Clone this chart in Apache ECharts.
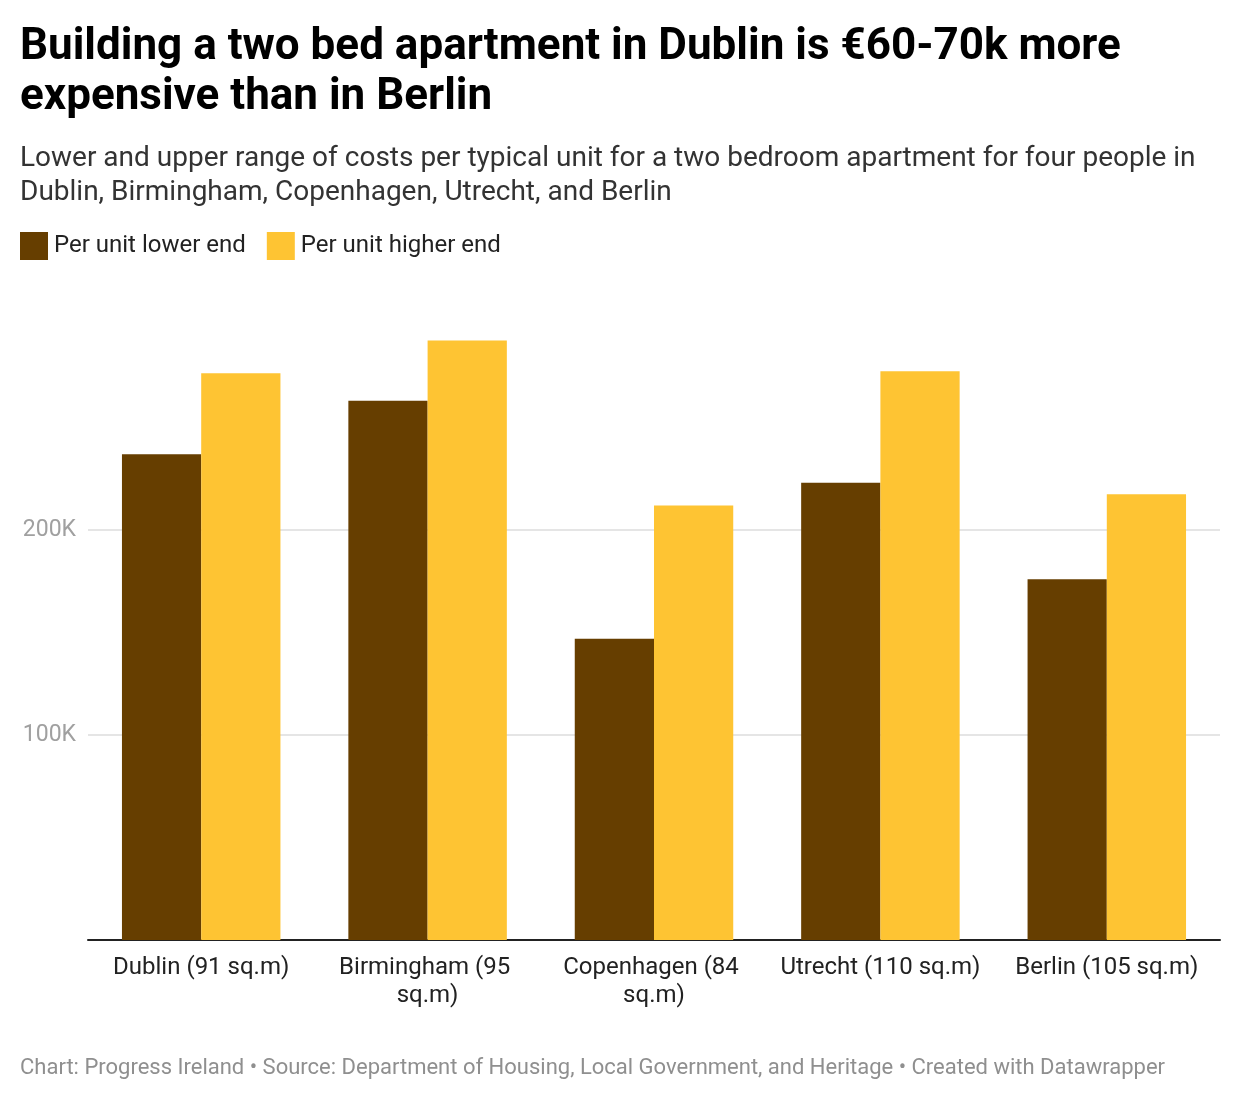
<!DOCTYPE html>
<html>
<head>
<meta charset="utf-8">
<script src="https://cdn.jsdelivr.net/npm/echarts@6/dist/echarts.min.js"></script>
<style>
  html, body { margin: 0; padding: 0; background: #fff; }
  #chart { width: 1240px; height: 1100px; }
</style>
</head>
<body>
<div id="chart"></div>
<script>
const categories = ['Dublin (91 sq.m)', 'Birmingham (95 sq.m)', 'Copenhagen (84 sq.m)', 'Utrecht (110 sq.m)', 'Berlin (105 sq.m)'];
const lowerEnd = [237000, 263000, 147000, 223000, 176000];
const higherEnd = [276500, 292500, 212000, 277500, 217500];
const seriesNames = ['Per unit lower end', 'Per unit higher end'];

const FONT = 'Roboto, "Noto Sans", sans-serif';
const chart = echarts.init(document.getElementById('chart'), null, { renderer: 'canvas' });

chart.setOption({
  backgroundColor: '#ffffff',
  textStyle: { fontFamily: FONT },
  title: [
    {
      text: 'Building a two bed apartment in Dublin is €60-70k more\nexpensive than in Berlin',
      left: 20, top: 23, padding: 0,
      textStyle: { fontFamily: FONT, fontSize: 44, fontWeight: 'bold', color: '#000', lineHeight: 50 }
    },
    {
      text: 'Lower and upper range of costs per typical unit for a two bedroom apartment for four people in\nDublin, Birmingham, Copenhagen, Utrecht, and Berlin',
      left: 20, top: 142, padding: 0,
      textStyle: { fontFamily: FONT, fontSize: 28, fontWeight: 'normal', color: '#333', lineHeight: 34 }
    },
    {
      text: 'Chart: Progress Ireland • Source: Department of Housing, Local Government, and Heritage • Created with Datawrapper',
      left: 20, top: 1055, padding: 0,
      textStyle: { fontFamily: FONT, fontSize: 22, fontWeight: 'normal', color: '#8f8f8f', lineHeight: 26 }
    }
  ],
  legend: {
    left: 20, top: 232, padding: 0,
    itemWidth: 28, itemHeight: 28, itemGap: 21,
    icon: 'rect',
    textStyle: { fontFamily: FONT, fontSize: 24, color: '#222', padding: [3, 0, 0, 1] },
    data: seriesNames
  },
  grid: { left: 88, right: 20, top: 325, bottom: 160, containLabel: false },
  xAxis: {
    type: 'category',
    data: categories,
    axisLine: { lineStyle: { color: '#222', width: 2 } },
    axisTick: { show: false },
    axisLabel: {
      fontFamily: FONT, fontSize: 24, color: '#222', lineHeight: 28,
      margin: 14, width: 215, overflow: 'break', interval: 0
    }
  },
  yAxis: {
    type: 'value',
    min: 0, max: 300000, interval: 100000,
    axisLine: { show: false },
    axisTick: { show: false },
    axisLabel: {
      showMinLabel: false, showMaxLabel: false,
      fontFamily: FONT, fontSize: 23, color: '#a0a0a0', margin: 12,
      formatter: v => (v / 1000) + 'K'
    },
    splitLine: { lineStyle: { color: ['rgba(0,0,0,0)', '#e5e5e5', '#e5e5e5', 'rgba(0,0,0,0)'], width: 2 } }
  },
  series: [
    {
      name: seriesNames[0], type: 'bar', data: lowerEnd,
      itemStyle: { color: '#663e00' },
      barGap: '0%', barCategoryGap: '30%', emphasis: { disabled: true }
    },
    {
      name: seriesNames[1], type: 'bar', data: higherEnd,
      itemStyle: { color: '#fec433' },
      barGap: '0%', barCategoryGap: '30%', emphasis: { disabled: true }
    }
  ],
  animation: false
});
</script>
</body>
</html>
